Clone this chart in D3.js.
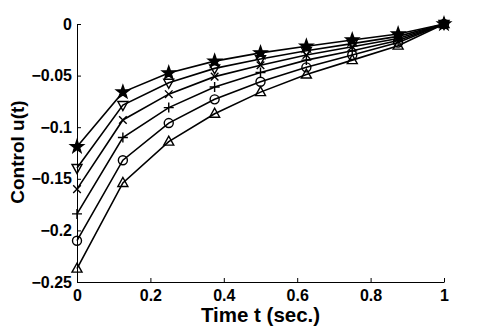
<!DOCTYPE html>
<html>
<head>
<meta charset="utf-8">
<script src="https://cdn.jsdelivr.net/npm/d3@7"></script>
<style>
  body { margin: 0; background: #fff; }
  svg { display: block; font-family: "Liberation Sans", Arial, sans-serif; font-weight: bold; }
</style>
</head>
<body>
<div id="container"></div>
<script>
// time samples
var times = [0, 0.125, 0.25, 0.375, 0.5, 0.625, 0.75, 0.875, 1];

// one series per marker
var starVals   = [-0.119, -0.066, -0.0475, -0.036, -0.028, -0.0215, -0.0155, -0.0097, 0];
var triDnVals  = [-0.1395, -0.0785, -0.057, -0.043, -0.034, -0.026, -0.019, -0.012, 0];
var crossVals  = [-0.160, -0.093, -0.068, -0.051, -0.040, -0.030, -0.022, -0.014, 0];
var plusVals   = [-0.184, -0.110, -0.081, -0.061, -0.047, -0.035, -0.026, -0.016, 0];
var circleVals = [-0.210, -0.132, -0.096, -0.073, -0.056, -0.042, -0.030, -0.018, 0];
var triUpVals  = [-0.237, -0.154, -0.114, -0.087, -0.066, -0.049, -0.035, -0.021, 0];

var xTicks = [0, 0.2, 0.4, 0.6, 0.8, 1];
var yTicks = [0, -0.05, -0.1, -0.15, -0.2, -0.25];

var series = [
  {name: "star", values: starVals},
  {name: "tridown", values: triDnVals},
  {name: "x", values: crossVals},
  {name: "plus", values: plusVals},
  {name: "circle", values: circleVals},
  {name: "triup", values: triUpVals}
];

var width = 491, height = 327;
var margin = {top: 24, right: 47, bottom: 45, left: 77};

var svg = d3.select("#container").append("svg")
    .attr("width", width)
    .attr("height", height);

var xScale = d3.scaleLinear().domain([0, 1]).range([margin.left, width - margin.right]);
var yScale = d3.scaleLinear().domain([-0.25, 0]).range([height - margin.bottom, margin.top]);

// minus sign formatting like the original
function fmt(d) {
  var s = d3.format("")(+d.toFixed(2));
  return s.replace("-", "\u2212");
}

var xAxis = d3.axisBottom(xScale).tickValues(xTicks).tickSizeInner(-4).tickSizeOuter(0)
    .tickFormat(fmt);
var yAxis = d3.axisLeft(yScale).tickValues(yTicks).tickSizeInner(-4).tickSizeOuter(0).tickPadding(5)
    .tickFormat(fmt);

var gx = svg.append("g")
    .attr("transform", "translate(0," + (height - margin.bottom) + ")")
    .call(xAxis);
var gy = svg.append("g")
    .attr("transform", "translate(" + margin.left + ",0)")
    .call(yAxis);

[gx, gy].forEach(function(g) {
  g.selectAll("path.domain").attr("stroke", "#000").attr("stroke-width", 1);
  g.selectAll(".tick line").attr("stroke", "#000").attr("stroke-width", 1);
  g.selectAll(".tick text")
    .attr("fill", "#000")
    .style("font-size", "16px")
    .style("font-weight", "bold")
    .style("font-family", "'Liberation Sans', Arial, sans-serif");
});
// baseline of x tick labels just under the axis
gx.selectAll(".tick text").attr("y", 18.5).attr("dy", 0);

// axis labels
svg.append("text")
    .attr("x", (margin.left + width - margin.right) / 2)
    .attr("y", 322)
    .attr("text-anchor", "middle")
    .style("font-size", "20.5px")
    .text("Time t (sec.)");

svg.append("text")
    .attr("transform", "translate(24,152) rotate(-90)")
    .attr("text-anchor", "middle")
    .style("font-size", "19px")
    .text("Control u(t)");

var line = d3.line()
    .x(function(d, i) { return xScale(times[i]); })
    .y(function(d) { return yScale(d); });

// marker shapes (centred on the point)
function markerPath(name) {
  var p = d3.path();
  if (name == "star") {
    var R = 6.8, r = 2.7;
    for (var k = 0; k < 10; k++) {
      var a = -Math.PI / 2 + k * Math.PI / 5;
      var rr = (k % 2 == 0) ? R : r;
      if (k == 0) p.moveTo(rr * Math.cos(a), rr * Math.sin(a));
      else p.lineTo(rr * Math.cos(a), rr * Math.sin(a));
    }
    p.closePath();
  } else if (name == "tridown") {
    p.moveTo(-5, -3.5); p.lineTo(5, -3.5); p.lineTo(0, 5.5); p.closePath();
  } else if (name == "triup") {
    p.moveTo(-5, 3.5); p.lineTo(5, 3.5); p.lineTo(0, -5.5); p.closePath();
  } else if (name == "x") {
    p.moveTo(-3.8, -3.8); p.lineTo(3.8, 3.8);
    p.moveTo(-3.8, 3.8); p.lineTo(3.8, -3.8);
  } else if (name == "plus") {
    p.moveTo(-5, 0); p.lineTo(5, 0);
    p.moveTo(0, -5); p.lineTo(0, 5);
  } else if (name == "circle") {
    p.moveTo(4.5, 0); p.arc(0, 0, 4.5, 0, 2 * Math.PI);
  }
  return p.toString();
}

var groups = svg.selectAll(".series")
    .data(series)
    .enter().append("g")
    .attr("class", "series");

groups.append("path")
    .attr("d", function(d) { return line(d.values); })
    .attr("fill", "none")
    .attr("stroke", "#000")
    .attr("stroke-width", 1.6);

groups.each(function(s) {
  d3.select(this).selectAll(".mk")
    .data(s.values)
    .enter().append("path")
    .attr("class", "mk")
    .attr("transform", function(d, i) { return "translate(" + xScale(times[i]) + "," + yScale(d) + ")"; })
    .attr("d", markerPath(s.name))
    .attr("fill", s.name == "star" ? "#000" : "none")
    .attr("stroke", "#000")
    .attr("stroke-width", 1.4);
});
</script>
</body>
</html>
